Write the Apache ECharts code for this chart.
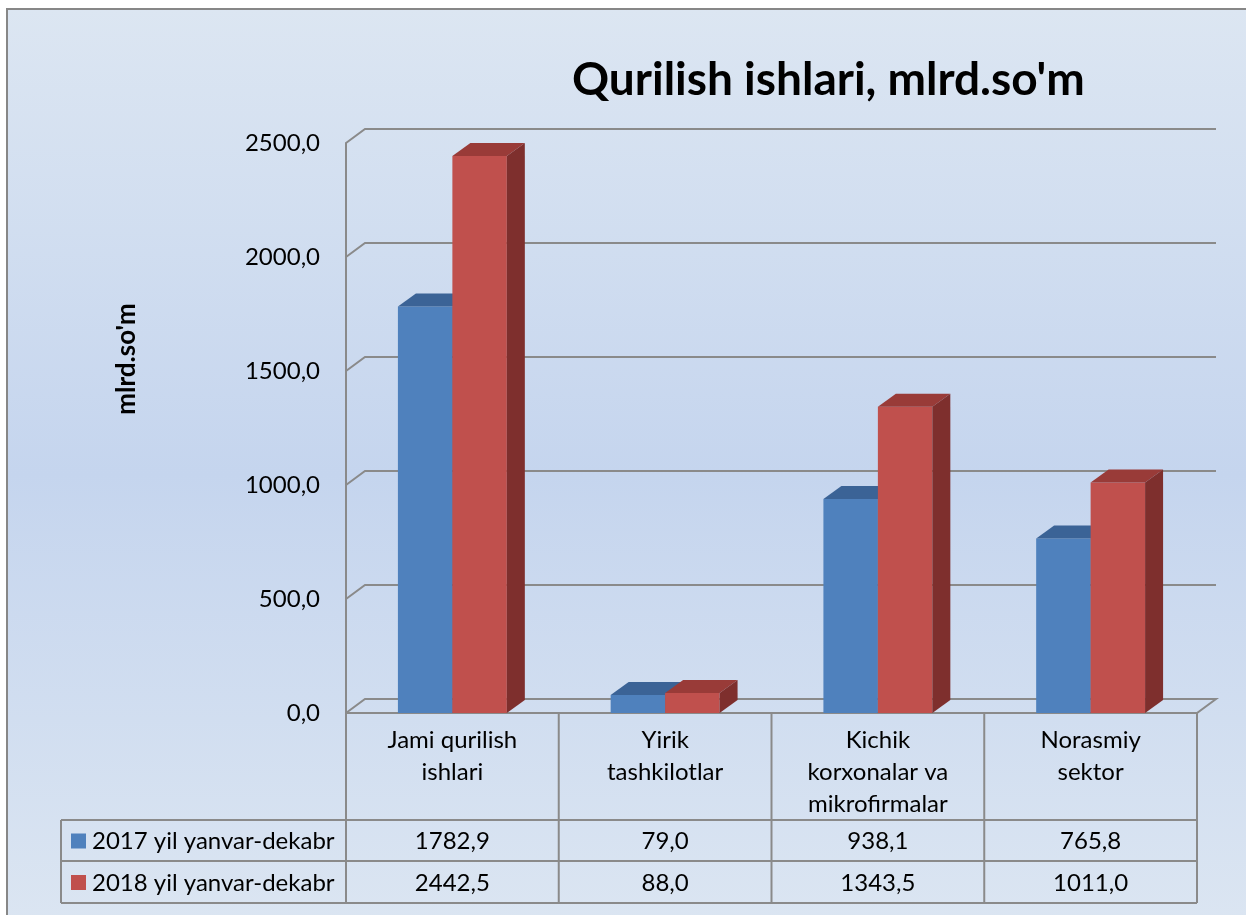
<!DOCTYPE html>
<html><head><meta charset="utf-8">
<script src="https://cdn.jsdelivr.net/npm/echarts@6/dist/echarts.min.js"></script>
<style>html,body{margin:0;padding:0;background:#fff;}#c{width:1246px;height:915px;}</style>
</head><body><div id="c"></div>
<script>
const categories = ['Jami qurilish\nishlari', 'Yirik\ntashkilotlar', 'Kichik\nkorxonalar va\nmikrofirmalar', 'Norasmiy\nsektor'];
const seriesNames = ['2017 yil yanvar-dekabr', '2018 yil yanvar-dekabr'];
const values2017 = [1782.9, 79.0, 938.1, 765.8];
const values2018 = [2442.5, 88.0, 1343.5, 1011.0];
const yTicks = [0, 500, 1000, 1500, 2000, 2500];

const FONT = 'Lato';
const FS = 24;
const fmt = v => v.toFixed(1).replace('.', ',');
const colors = [
  { front: '#4F81BD', top: '#3B6396', side: '#35598A' },
  { front: '#C0504D', top: '#993B38', side: '#7E2F2D' }
];
const DX = 18, DY = 13;      // bar depth offset
const GDX = 19, GDY = 14;    // wall depth offset

function barRender(sIdx) {
  return function (params, api) {
    const idx = api.value(0), val = api.value(1);
    const base = api.coord([idx, 0]);
    const top = api.coord([idx, val]);
    const band = api.size([1, 0])[0];
    const w = band * 0.256;
    const x0 = base[0] + (sIdx === 0 ? -w : 0);
    const ty = top[1], by = base[1];
    const c = colors[sIdx];
    return {
      type: 'group',
      children: [
        { type: 'rect', shape: { x: x0, y: ty, width: w, height: by - ty }, style: { fill: c.front } },
        { type: 'polygon', shape: { points: [[x0, ty], [x0 + DX, ty - DY], [x0 + w + DX, ty - DY], [x0 + w, ty]] }, style: { fill: c.top } },
        { type: 'polygon', shape: { points: [[x0 + w, ty], [x0 + w + DX, ty - DY], [x0 + w + DX, by - DY], [x0 + w, by]] }, style: { fill: c.side } }
      ]
    };
  };
}

function gridRender(params, api) {
  const cs = params.coordSys;
  const v = api.value(1);
  const p = api.coord([0, v]);
  const y = p[1];
  const gx = cs.x, gr = cs.x + cs.width;
  const st = { stroke: '#8A8A8A', lineWidth: 2, fill: null };
  if (v === 0) {
    return { type: 'polyline', shape: { points: [[gx, y], [gx + GDX, y - GDY], [gr + GDX, y - GDY], [gr, y], [gx, y]] }, style: st };
  }
  return { type: 'polyline', shape: { points: [[gx, y], [gx + GDX, y - GDY], [gr + GDX, y - GDY]] }, style: st };
}

function tableRender(params, api) {
  const cs = params.coordSys;
  const gx = cs.x, gw = cs.width, gb = cs.y + cs.height;
  const r0 = gb + 107, r1 = gb + 148, r2 = gb + 190;
  const lx = 61;
  const st = { stroke: '#8A8A8A', lineWidth: 2 };
  const ch = [];
  const colW = gw / categories.length;
  for (let i = 0; i <= categories.length; i++) {
    const x = gx + i * colW;
    ch.push({ type: 'line', shape: { x1: x, y1: gb, x2: x, y2: r2 }, style: st });
  }
  [r0, r1, r2].forEach(y => ch.push({ type: 'line', shape: { x1: lx, y1: y, x2: gx + gw, y2: y }, style: st }));
  ch.push({ type: 'line', shape: { x1: lx, y1: r0, x2: lx, y2: r2 }, style: st });
  const rows = [values2017, values2018];
  const rowMid = [(r0 + r1) / 2, (r1 + r2) / 2];
  rows.forEach((arr, ri) => {
    arr.forEach((v, ci) => {
      const cx = api.coord([ci, 0])[0];
      ch.push({ type: 'text', style: { text: fmt(v), x: cx, y: rowMid[ri] + 1, align: 'center', verticalAlign: 'middle', font: FS + 'px ' + FONT, fill: '#000' } });
    });
    ch.push({ type: 'rect', shape: { x: 71, y: rowMid[ri] - 7, width: 15, height: 15 }, style: { fill: colors[ri].front } });
    ch.push({ type: 'text', style: { text: seriesNames[ri], x: 92, y: rowMid[ri] + 1, align: 'left', verticalAlign: 'middle', font: FS + 'px ' + FONT, fill: '#000' } });
  });
  return { type: 'group', children: ch };
}

const chart = echarts.init(document.getElementById('c'), null, { renderer: 'canvas' });
chart.setOption({
  animation: false,
  backgroundColor: '#ffffff',
  textStyle: { fontFamily: FONT },
  graphic: [
    { type: 'rect', z: -100, shape: { x: 7, y: 9, width: 1260, height: 930 },
      style: { stroke: '#878787', lineWidth: 2,
        fill: { type: 'linear', x: 0, y: 0, x2: 0, y2: 1, colorStops: [
          { offset: 0, color: '#DCE6F2' }, { offset: 0.5, color: '#C5D5EE' }, { offset: 1, color: '#DCE6F2' }] } } },
    { type: 'text', x: 127, y: 359, rotation: Math.PI / 2,
      style: { text: "mlrd.so'm", font: 'bold 26px ' + FONT, fill: '#000', align: 'center', verticalAlign: 'middle' } }
  ],
  title: {
    text: "Qurilish ishlari, mlrd.so'm",
    left: 567, top: 52,
    textStyle: { fontFamily: FONT, fontWeight: 'bold', fontSize: 46, color: '#000' }
  },
  grid: { left: 346, right: 49, top: 143, bottom: 202, containLabel: false },
  xAxis: {
    type: 'category', data: categories,
    axisLine: { show: false }, axisTick: { show: false },
    axisLabel: { interval: 0, margin: 11, verticalAlign: 'top', lineHeight: 32, fontSize: FS, color: '#000', fontFamily: FONT }
  },
  yAxis: {
    type: 'value', min: 0, max: 2500, interval: 500,
    axisLine: { show: true, lineStyle: { color: '#8A8A8A', width: 2 } },
    axisTick: { show: false },
    splitLine: { show: false },
    axisLabel: { margin: 26, fontSize: FS, color: '#000', fontFamily: FONT, formatter: v => fmt(v) }
  },
  series: [
    { type: 'custom', name: 'grid', z: 1, renderItem: gridRender, data: yTicks.map(t => [0, t]), silent: true },
    { type: 'custom', name: seriesNames[0], z: 3, renderItem: barRender(0), data: values2017.map((v, i) => [i, v]) },
    { type: 'custom', name: seriesNames[1], z: 4, renderItem: barRender(1), data: values2018.map((v, i) => [i, v]) },
    { type: 'custom', name: 'table', z: 5, renderItem: tableRender, data: [[0, 0]], silent: true }
  ]
});
</script></body></html>
